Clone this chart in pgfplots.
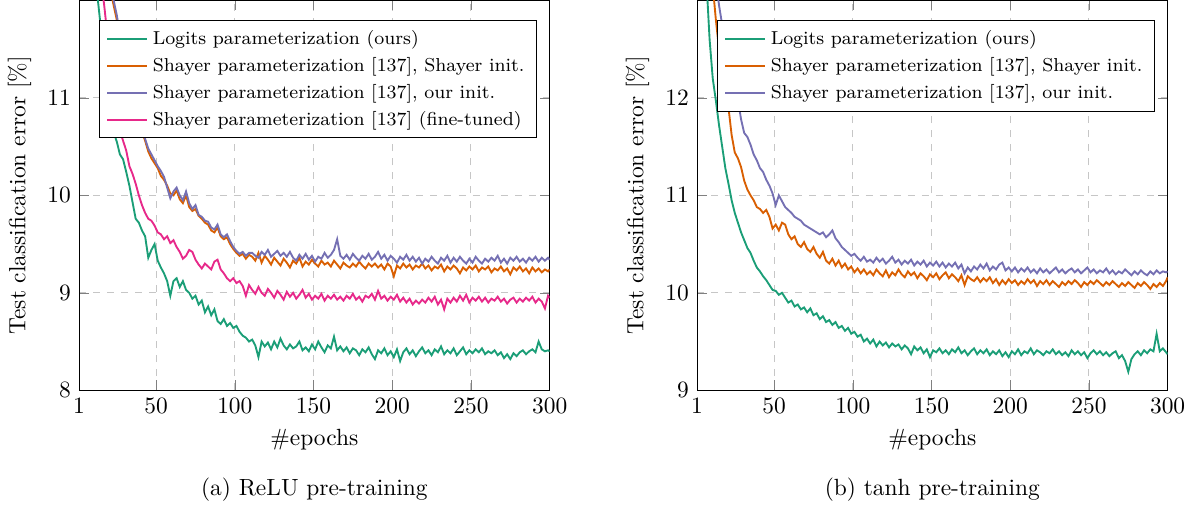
\documentclass[border=0pt]{standalone}
\usepackage{pgfplots}
\usepackage{pgfplotstable}
\pgfplotsset{compat=1.18}
\definecolor{dkgreen}{HTML}{1B9E77}
\definecolor{dkorange}{HTML}{D95F02}
\definecolor{dkpurple}{HTML}{7570B3}
\definecolor{dkpink}{HTML}{E7298A}

\pgfplotstableread{
x g o p m
1 16.0 18.0 18.2 16.0
3 15.0 17.0 17.2 15.1
5 14.2 16.0 16.2 14.3
7 13.5 15.2 15.4 13.7
9 13.0 14.6 14.7 13.2
11 12.4 14.0 14.1 12.8
13 12.0 13.4 13.5 12.5
15 11.7 12.9 13.0 12.2
17 11.35 12.5 12.6 11.95
19 11.1 12.25 12.3 11.65
21 10.85 12.1 12.15 11.35
23 10.65 11.95 12.0 11.05
25 10.55 11.8 11.85 10.8
27 10.42 11.6 11.65 10.66
29 10.37 11.45 11.5 10.56
31 10.24 11.3 11.33 10.46
33 10.1 11.15 11.17 10.3
35 9.93 11.0 11.02 10.22
37 9.76 10.88 10.9 10.12
39 9.72 10.76 10.78 10.0
41 9.64 10.66 10.68 9.9
43 9.58 10.56 10.58 9.82
45 9.36 10.45 10.48 9.76
47 9.44 10.38 10.42 9.74
49 9.5 10.33 10.36 9.69
51 9.33 10.28 10.3 9.62
53 9.26 10.2 10.25 9.6
55 9.2 10.16 10.19 9.55
57 9.12 10.1 10.08 9.58
59 8.97 10.02 9.97 9.51
61 9.12 10.0 10.04 9.54
63 9.15 10.05 10.08 9.47
65 9.06 9.96 10.0 9.42
67 9.12 9.92 9.95 9.35
69 9.03 10.0 10.04 9.38
71 9.0 9.88 9.92 9.44
73 8.94 9.84 9.86 9.42
75 8.97 9.86 9.9 9.34
77 8.88 9.79 9.8 9.29
79 8.92 9.76 9.78 9.25
81 8.8 9.72 9.74 9.3
83 8.86 9.7 9.73 9.27
85 8.77 9.64 9.67 9.24
87 8.83 9.62 9.65 9.32
89 8.71 9.67 9.7 9.34
91 8.68 9.58 9.6 9.24
93 8.73 9.55 9.57 9.2
95 8.66 9.57 9.6 9.15
97 8.69 9.5 9.53 9.12
99 8.64 9.45 9.47 9.15
101 8.66 9.41 9.43 9.1
103 8.6 9.38 9.4 9.12
105 8.56 9.4 9.42 9.07
107 8.54 9.35 9.38 8.97
109 8.5 9.39 9.41 9.08
111 8.52 9.37 9.41 9.03
113 8.46 9.33 9.38 8.99
115 8.34 9.41 9.36 9.06
117 8.5 9.31 9.42 9.0
119 8.45 9.38 9.39 8.97
121 8.49 9.34 9.44 9.04
123 8.42 9.29 9.37 9.0
125 8.5 9.36 9.4 8.95
127 8.44 9.32 9.43 9.02
129 8.53 9.28 9.38 8.98
131 8.46 9.35 9.41 8.93
133 8.42 9.31 9.37 9.01
135 8.47 9.26 9.42 8.96
137 8.43 9.33 9.36 9.0
139 8.45 9.3 9.33 8.94
141 8.5 9.36 9.39 8.98
143 8.41 9.27 9.35 9.03
145 8.44 9.32 9.4 8.95
147 8.4 9.29 9.34 8.99
149 8.47 9.34 9.38 8.93
151 8.42 9.3 9.32 8.97
153 8.5 9.27 9.37 8.94
155 8.44 9.33 9.35 8.99
157 8.39 9.29 9.41 8.92
159 8.46 9.31 9.36 8.97
161 8.43 9.27 9.39 8.94
163 8.55 9.33 9.44 8.98
165 8.41 9.29 9.55 8.93
167 8.45 9.25 9.38 8.96
169 8.4 9.31 9.35 8.92
171 8.44 9.28 9.39 8.97
173 8.38 9.26 9.34 8.94
175 8.43 9.3 9.4 8.99
177 8.41 9.27 9.36 8.93
179 8.36 9.32 9.33 8.96
181 8.42 9.28 9.38 8.91
183 8.39 9.25 9.35 8.97
185 8.44 9.3 9.4 8.95
187 8.37 9.27 9.34 8.99
189 8.32 9.3 9.37 8.93
191 8.41 9.26 9.42 9.02
193 8.38 9.29 9.35 8.94
195 8.43 9.24 9.39 8.97
197 8.36 9.3 9.33 8.92
199 8.4 9.27 9.38 8.96
201 8.34 9.17 9.35 8.93
203 8.42 9.28 9.31 8.98
205 8.3 9.25 9.37 8.91
207 8.39 9.3 9.34 8.95
209 8.43 9.26 9.39 8.9
211 8.37 9.29 9.33 8.94
213 8.41 9.24 9.37 8.88
215 8.35 9.28 9.32 8.92
217 8.4 9.26 9.36 8.89
219 8.44 9.3 9.3 8.93
221 8.38 9.25 9.35 8.9
223 8.41 9.28 9.32 8.95
225 8.36 9.23 9.37 8.91
227 8.42 9.27 9.33 8.96
229 8.39 9.25 9.3 8.88
231 8.45 9.29 9.36 8.93
233 8.37 9.22 9.33 8.83
235 8.41 9.27 9.38 8.94
237 8.38 9.24 9.31 8.9
239 8.43 9.28 9.36 8.95
241 8.36 9.25 9.32 8.91
243 8.4 9.2 9.37 8.97
245 8.44 9.26 9.33 8.92
247 8.37 9.23 9.3 8.98
249 8.41 9.27 9.35 8.9
251 8.38 9.24 9.31 8.95
253 8.42 9.28 9.37 8.92
255 8.39 9.22 9.33 8.96
257 8.43 9.26 9.3 8.91
259 8.37 9.24 9.35 8.95
261 8.4 9.27 9.32 8.9
263 8.38 9.21 9.36 8.94
265 8.41 9.25 9.33 8.92
267 8.36 9.23 9.38 8.96
269 8.39 9.27 9.31 8.91
271 8.33 9.22 9.35 8.94
273 8.37 9.25 9.3 8.89
275 8.32 9.19 9.36 8.93
277 8.38 9.26 9.33 8.95
279 8.35 9.23 9.37 8.9
281 8.39 9.27 9.32 8.94
283 8.41 9.22 9.35 8.91
285 8.37 9.25 9.31 8.95
287 8.4 9.2 9.36 8.92
289 8.42 9.26 9.33 8.96
291 8.39 9.22 9.37 8.9
293 8.5 9.25 9.32 8.94
295 8.42 9.21 9.36 8.91
297 8.4 9.24 9.33 8.84
299 8.41 9.22 9.36 8.97
300 8.4 9.24 9.34 8.95
}\tabL

\pgfplotstableread{
x g o p
1 15.5 17.0 18.0
3 14.4 15.8 16.8
5 13.7 14.9 15.8
7 13.2 14.2 15.0
9 12.6 13.6 14.3
11 12.2 13.15 13.7
13 11.97 12.8 13.2
15 11.72 12.5 12.95
17 11.5 12.3 12.75
19 11.28 12.05 12.55
21 11.12 11.9 12.4
23 10.95 11.62 12.36
25 10.82 11.44 12.1
27 10.72 11.38 11.98
29 10.62 11.29 11.78
31 10.54 11.15 11.64
33 10.46 11.06 11.6
35 10.41 11.0 11.52
37 10.33 10.95 11.42
39 10.26 10.88 11.36
41 10.22 10.86 11.28
43 10.17 10.82 11.24
45 10.13 10.85 11.16
47 10.08 10.78 11.1
49 10.03 10.66 11.02
51 10.02 10.7 10.9
53 9.98 10.64 11.0
55 10.0 10.72 10.94
57 9.95 10.7 10.88
59 9.9 10.6 10.85
61 9.92 10.55 10.82
63 9.86 10.58 10.78
65 9.88 10.5 10.76
67 9.83 10.47 10.74
69 9.85 10.52 10.7
71 9.8 10.45 10.68
73 9.84 10.42 10.66
75 9.77 10.47 10.64
77 9.79 10.4 10.62
79 9.73 10.36 10.6
81 9.76 10.42 10.62
83 9.7 10.33 10.57
85 9.72 10.3 10.6
87 9.67 10.35 10.64
89 9.7 10.28 10.56
91 9.64 10.33 10.52
93 9.66 10.26 10.47
95 9.61 10.3 10.44
97 9.64 10.24 10.41
99 9.58 10.27 10.38
101 9.6 10.21 10.4
103 9.55 10.25 10.36
105 9.57 10.2 10.33
107 9.5 10.24 10.37
109 9.53 10.19 10.32
111 9.48 10.22 10.34
113 9.52 10.18 10.31
115 9.45 10.24 10.36
117 9.5 10.2 10.32
119 9.46 10.17 10.35
121 9.49 10.23 10.3
123 9.44 10.16 10.33
125 9.48 10.21 10.37
127 9.45 10.18 10.31
129 9.47 10.24 10.34
131 9.42 10.19 10.29
133 9.46 10.16 10.33
135 9.43 10.22 10.3
137 9.37 10.18 10.34
139 9.45 10.21 10.28
141 9.41 10.15 10.32
143 9.44 10.2 10.29
145 9.38 10.17 10.33
147 9.42 10.13 10.27
149 9.34 10.19 10.31
151 9.41 10.16 10.28
153 9.39 10.2 10.32
155 9.43 10.14 10.27
157 9.38 10.18 10.31
159 9.41 10.21 10.26
161 9.37 10.15 10.3
163 9.42 10.19 10.27
165 9.39 10.16 10.31
167 9.44 10.12 10.25
169 9.38 10.18 10.29
171 9.41 10.08 10.2
173 9.36 10.17 10.26
175 9.4 10.14 10.22
177 9.43 10.12 10.27
179 9.37 10.16 10.24
181 9.41 10.11 10.29
183 9.38 10.15 10.25
185 9.42 10.12 10.3
187 9.36 10.16 10.23
189 9.4 10.1 10.27
191 9.37 10.14 10.24
193 9.41 10.08 10.29
195 9.35 10.13 10.31
197 9.39 10.09 10.23
199 9.34 10.14 10.26
201 9.4 10.1 10.22
203 9.37 10.13 10.26
205 9.42 10.08 10.21
207 9.36 10.12 10.25
209 9.4 10.09 10.22
211 9.38 10.14 10.26
213 9.43 10.1 10.21
215 9.37 10.13 10.24
217 9.41 10.07 10.2
219 9.39 10.12 10.25
221 9.36 10.09 10.21
223 9.4 10.13 10.24
225 9.38 10.08 10.2
227 9.42 10.12 10.23
229 9.37 10.09 10.26
231 9.4 10.06 10.21
233 9.36 10.11 10.24
235 9.39 10.08 10.2
237 9.35 10.12 10.23
239 9.41 10.09 10.25
241 9.37 10.13 10.21
243 9.4 10.1 10.24
245 9.36 10.06 10.2
247 9.39 10.11 10.23
249 9.33 10.08 10.26
251 9.38 10.12 10.21
253 9.41 10.09 10.24
255 9.37 10.13 10.2
257 9.4 10.1 10.23
259 9.36 10.07 10.21
261 9.39 10.11 10.25
263 9.35 10.08 10.2
265 9.38 10.12 10.23
267 9.4 10.09 10.19
269 9.33 10.06 10.22
271 9.36 10.1 10.2
273 9.3 10.07 10.24
275 9.19 10.11 10.21
277 9.32 10.08 10.18
279 9.37 10.05 10.22
281 9.4 10.1 10.19
283 9.36 10.07 10.23
285 9.41 10.11 10.2
287 9.38 10.08 10.18
289 9.42 10.04 10.22
291 9.4 10.09 10.19
293 9.58 10.06 10.23
295 9.4 10.1 10.2
297 9.43 10.07 10.22
299 9.39 10.12 10.21
300 9.37 10.16 10.22
}\tabR

\pgfplotsset{
  myax/.style={
    width=200.9pt, height=166.4pt, scale only axis,
    xmin=1, xmax=300,
    xtick={1,50,100,150,200,250,300},
    grid=major,
    major grid style={dashed, gray!45},
    xlabel={\#epochs},
    ylabel={Test classification error [\%]},
    legend cell align=left,
    legend style={draw=black, fill=white, font=\footnotesize,
      at={(0.042,0.949)}, anchor=north west},
    every axis plot/.append style={thick},
  }
}

\begin{document}
\begin{tikzpicture}
\begin{axis}[myax, name=L, ymin=8, ymax=12, ytick={8,9,10,11}]
\addplot[dkgreen, no markers] table[x=x,y=g]{\tabL};
\addlegendentry{Logits parameterization (ours)}
\addplot[dkorange, no markers] table[x=x,y=o]{\tabL};
\addlegendentry{Shayer parameterization [137], Shayer init.}
\addplot[dkpurple, no markers] table[x=x,y=p]{\tabL};
\addlegendentry{Shayer parameterization [137], our init.}
\addplot[dkpink, no markers] table[x=x,y=m]{\tabL};
\addlegendentry{Shayer parameterization [137] (fine-tuned)}
\end{axis}
\begin{axis}[myax, name=R, at={(263.8pt,0)}, ymin=9, ymax=13, ytick={9,10,11,12}]
\addplot[dkgreen, no markers] table[x=x,y=g]{\tabR};
\addlegendentry{Logits parameterization (ours)}
\addplot[dkorange, no markers] table[x=x,y=o]{\tabR};
\addlegendentry{Shayer parameterization [137], Shayer init.}
\addplot[dkpurple, no markers] table[x=x,y=p]{\tabR};
\addlegendentry{Shayer parameterization [137], our init.}
\end{axis}
\node[anchor=base] at ([yshift=-45pt]L.south) {(a) ReLU pre-training};
\node[anchor=base] at ([yshift=-45pt]R.south) {(b) tanh pre-training};
\end{tikzpicture}
\end{document}
